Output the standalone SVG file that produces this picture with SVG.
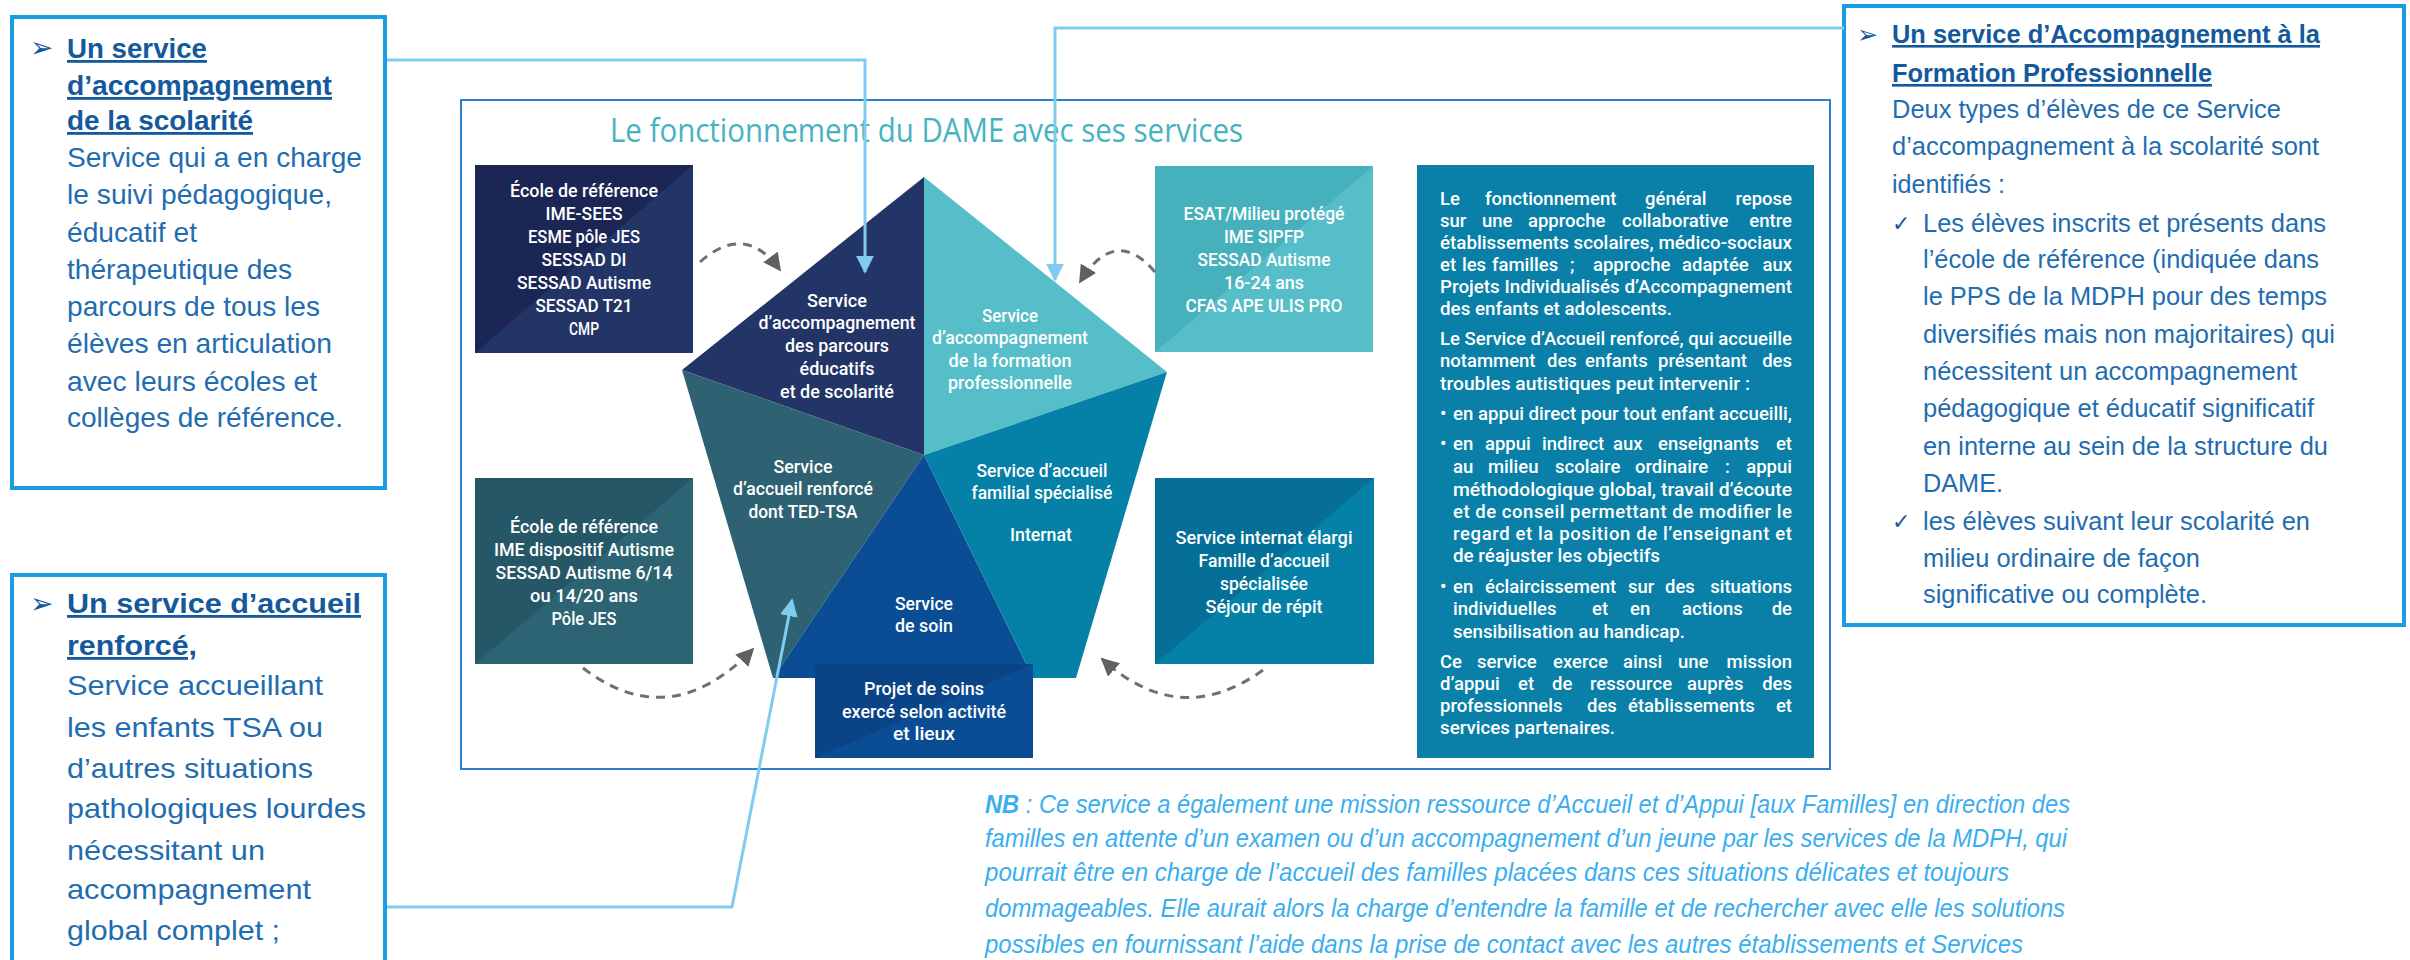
<svg xmlns="http://www.w3.org/2000/svg" width="2410" height="960" viewBox="0 0 2410 960">
<defs>
<style>
.side{fill:#fff;stroke:#1a9ee2;stroke-width:4}
.st{font-family:"Liberation Sans",Arial,sans-serif;font-size:28px;fill:#1f6db0}
.stt{font-family:"Liberation Sans",Arial,sans-serif;font-size:28px;fill:#14599b;font-weight:bold;text-decoration:underline}
.rt{font-family:"Liberation Sans",Arial,sans-serif;font-size:26px;fill:#1f6db0}
.rtt{font-family:"Liberation Sans",Arial,sans-serif;font-size:26px;fill:#14599b;font-weight:bold;text-decoration:underline}
.sym{font-family:"DejaVu Sans",sans-serif;fill:#14599b}
.wt{font-family:Roboto,"Open Sans",sans-serif;font-size:19px;fill:#fff;font-weight:500;text-anchor:middle}
.pt{font-family:Roboto,"Open Sans",sans-serif;font-size:18.5px;fill:#fff;font-weight:500}
.nb{font-family:"Liberation Sans",Arial,sans-serif;font-size:25px;fill:#3aaef0;font-style:italic}
.conn{fill:none;stroke:#80ccf0;stroke-width:3}
.dash{fill:none;stroke:#707070;stroke-width:3;stroke-dasharray:9 7}
</style>
<marker id="ah" viewBox="0 0 10 10" refX="9" refY="5" markerWidth="6" markerHeight="6" orient="auto" markerUnits="strokeWidth"><path d="M0,0 L10,5 L0,10 z" fill="#80ccf0"/></marker>
<marker id="ahg" viewBox="0 0 10 10" refX="9" refY="5" markerWidth="6" markerHeight="6" orient="auto" markerUnits="strokeWidth"><path d="M0,0 L10,5 L0,10 z" fill="#606060"/></marker>
</defs>
<rect width="2410" height="960" fill="#fff"/>

<g id="frame">
<rect x="461" y="100" width="1369" height="669" fill="none" stroke="#2e7fcf" stroke-width="2"/>
<text x="610" y="142" font-family="'Open Sans',Roboto,sans-serif" font-size="33" font-weight="500" fill="#46b3c2" textLength="633" lengthAdjust="spacingAndGlyphs">Le fonctionnement du DAME avec ses services</text>
</g>

<g id="pentagon">
<polygon id="slice-scolarite" points="924,177 682,370 924,455" fill="#233466"/>
<polygon id="slice-formation" points="924,177 1167,372 924,455" fill="#55bec8"/>
<polygon id="slice-renforce" points="682,370 773,678 924,455" fill="#2e6272"/>
<polygon id="slice-soin" points="924,455 773,678 1033,678" fill="#0a4d94"/>
<polygon id="slice-familial" points="924,455 1033,678 1076,678 1167,372" fill="#0581a8"/>
</g>

<g id="label-scolarite">
<text class="wt" x="837" y="307" textLength="60" lengthAdjust="spacingAndGlyphs">Service</text>
<text class="wt" x="837" y="329" textLength="157" lengthAdjust="spacingAndGlyphs">d’accompagnement</text>
<text class="wt" x="837" y="352" textLength="104" lengthAdjust="spacingAndGlyphs">des parcours</text>
<text class="wt" x="837" y="375" textLength="75" lengthAdjust="spacingAndGlyphs">éducatifs</text>
<text class="wt" x="837" y="398" textLength="114" lengthAdjust="spacingAndGlyphs">et de scolarité</text>
</g>
<g id="label-formation">
<text class="wt" x="1010" y="322" textLength="56" lengthAdjust="spacingAndGlyphs">Service</text>
<text class="wt" x="1010" y="344" textLength="156" lengthAdjust="spacingAndGlyphs">d’accompagnement</text>
<text class="wt" x="1010" y="367" textLength="123" lengthAdjust="spacingAndGlyphs">de la formation</text>
<text class="wt" x="1010" y="389" textLength="124" lengthAdjust="spacingAndGlyphs">professionnelle</text>
</g>
<g id="label-renforce">
<text class="wt" x="803" y="473" textLength="59" lengthAdjust="spacingAndGlyphs">Service</text>
<text class="wt" x="803" y="495" textLength="140" lengthAdjust="spacingAndGlyphs">d’accueil renforcé</text>
<text class="wt" x="803" y="518" textLength="109" lengthAdjust="spacingAndGlyphs">dont TED-TSA</text>
</g>
<g id="label-familial">
<text class="wt" x="1042" y="477" textLength="131" lengthAdjust="spacingAndGlyphs">Service d’accueil</text>
<text class="wt" x="1042" y="499" textLength="141" lengthAdjust="spacingAndGlyphs">familial spécialisé</text>
<text class="wt" x="1041" y="541" textLength="62" lengthAdjust="spacingAndGlyphs">Internat</text>
</g>
<g id="label-soin">
<text class="wt" x="924" y="610" textLength="58" lengthAdjust="spacingAndGlyphs">Service</text>
<text class="wt" x="924" y="632" textLength="58" lengthAdjust="spacingAndGlyphs">de soin</text>
</g>

<g id="box-ecole">
<rect x="475" y="165" width="218" height="188" fill="#233466"/>
<polygon points="475,165 693,165 475,353" fill="#1b2654"/>
<text class="wt" x="584" y="197" textLength="148" lengthAdjust="spacingAndGlyphs">École de référence</text>
<text class="wt" x="584" y="220" textLength="77" lengthAdjust="spacingAndGlyphs">IME-SEES</text>
<text class="wt" x="584" y="243" textLength="112" lengthAdjust="spacingAndGlyphs">ESME pôle JES</text>
<text class="wt" x="584" y="266" textLength="85" lengthAdjust="spacingAndGlyphs">SESSAD DI</text>
<text class="wt" x="584" y="289" textLength="134" lengthAdjust="spacingAndGlyphs">SESSAD Autisme</text>
<text class="wt" x="584" y="312" textLength="97" lengthAdjust="spacingAndGlyphs">SESSAD T21</text>
<text class="wt" x="584" y="335" textLength="30" lengthAdjust="spacingAndGlyphs">CMP</text>
</g>
<g id="box-autisme">
<rect x="475" y="478" width="218" height="186" fill="#2d6474"/>
<polygon points="475,478 693,478 475,664" fill="#255767"/>
<text class="wt" x="584" y="533" textLength="148" lengthAdjust="spacingAndGlyphs">École de référence</text>
<text class="wt" x="584" y="556" textLength="180" lengthAdjust="spacingAndGlyphs">IME dispositif Autisme</text>
<text class="wt" x="584" y="579" textLength="177" lengthAdjust="spacingAndGlyphs">SESSAD Autisme 6/14</text>
<text class="wt" x="584" y="602" textLength="108" lengthAdjust="spacingAndGlyphs">ou 14/20 ans</text>
<text class="wt" x="584" y="625" textLength="65" lengthAdjust="spacingAndGlyphs">Pôle JES</text>
</g>
<g id="box-esat">
<rect x="1155" y="166" width="218" height="186" fill="#55bec8"/>
<polygon points="1155,166 1373,166 1155,352" fill="#46b1bc"/>
<text class="wt" x="1264" y="220" textLength="161" lengthAdjust="spacingAndGlyphs">ESAT/Milieu protégé</text>
<text class="wt" x="1264" y="243" textLength="80" lengthAdjust="spacingAndGlyphs">IME SIPFP</text>
<text class="wt" x="1264" y="266" textLength="133" lengthAdjust="spacingAndGlyphs">SESSAD Autisme</text>
<text class="wt" x="1264" y="289" textLength="80" lengthAdjust="spacingAndGlyphs">16-24 ans</text>
<text class="wt" x="1264" y="312" textLength="157" lengthAdjust="spacingAndGlyphs">CFAS APE ULIS PRO</text>
</g>
<g id="box-internat">
<rect x="1155" y="478" width="219" height="186" fill="#0581a8"/>
<polygon points="1155,478 1374,478 1155,664" fill="#066f97"/>
<text class="wt" x="1264" y="544" textLength="177" lengthAdjust="spacingAndGlyphs">Service internat élargi</text>
<text class="wt" x="1264" y="567" textLength="131" lengthAdjust="spacingAndGlyphs">Famille d’accueil</text>
<text class="wt" x="1264" y="590" textLength="88" lengthAdjust="spacingAndGlyphs">spécialisée</text>
<text class="wt" x="1264" y="613" textLength="117" lengthAdjust="spacingAndGlyphs">Séjour de répit</text>
</g>
<g id="box-projet">
<rect x="815" y="664" width="218" height="94" fill="#0a4d94"/>
<polygon points="815,664 1033,664 815,758" fill="#0b4387"/>
<text class="wt" x="924" y="695" textLength="120" lengthAdjust="spacingAndGlyphs">Projet de soins</text>
<text class="wt" x="924" y="718" textLength="164" lengthAdjust="spacingAndGlyphs">exercé selon activité</text>
<text class="wt" x="924" y="740" textLength="62" lengthAdjust="spacingAndGlyphs">et lieux</text>
</g>

<g id="panel-texte">
<rect x="1417" y="165" width="397" height="593" fill="#0a80a8"/>
<text class="pt" y="205"><tspan x="1440">Le</tspan><tspan x="1485">fonctionnement</tspan><tspan x="1645">général</tspan><tspan x="1792" text-anchor="end">repose</tspan></text>
<text class="pt" y="227"><tspan x="1440">sur</tspan><tspan x="1482">une</tspan><tspan x="1528">approche</tspan><tspan x="1622">collaborative</tspan><tspan x="1792" text-anchor="end">entre</tspan></text>
<text class="pt" x="1440" y="249" textLength="352" lengthAdjust="spacingAndGlyphs">établissements scolaires, médico-sociaux</text>
<text class="pt" y="271"><tspan x="1440">et</tspan><tspan x="1462">les</tspan><tspan x="1492">familles</tspan><tspan x="1570">;</tspan><tspan x="1593">approche</tspan><tspan x="1682">adaptée</tspan><tspan x="1792" text-anchor="end">aux</tspan></text>
<text class="pt" x="1440" y="293" textLength="352" lengthAdjust="spacingAndGlyphs">Projets Individualisés d’Accompagnement</text>
<text class="pt" x="1440" y="315" textLength="232" lengthAdjust="spacingAndGlyphs">des enfants et adolescents.</text>
<text class="pt" x="1440" y="345" textLength="352" lengthAdjust="spacingAndGlyphs">Le Service d’Accueil renforcé, qui accueille</text>
<text class="pt" y="367"><tspan x="1440">notamment</tspan><tspan x="1547">des</tspan><tspan x="1585">enfants</tspan><tspan x="1658">présentant</tspan><tspan x="1792" text-anchor="end">des</tspan></text>
<text class="pt" x="1440" y="390" textLength="310" lengthAdjust="spacingAndGlyphs">troubles autistiques peut intervenir :</text>
<text class="pt" x="1440" y="420">•</text>
<text class="pt" x="1453" y="420" textLength="339" lengthAdjust="spacingAndGlyphs">en appui direct pour tout enfant accueilli,</text>
<text class="pt" x="1440" y="450">•</text>
<text class="pt" y="450"><tspan x="1453">en</tspan><tspan x="1485">appui</tspan><tspan x="1542">indirect</tspan><tspan x="1613">aux</tspan><tspan x="1658">enseignants</tspan><tspan x="1792" text-anchor="end">et</tspan></text>
<text class="pt" y="473"><tspan x="1453">au</tspan><tspan x="1488">milieu</tspan><tspan x="1555">scolaire</tspan><tspan x="1635">ordinaire</tspan><tspan x="1725">:</tspan><tspan x="1792" text-anchor="end">appui</tspan></text>
<text class="pt" x="1453" y="496" textLength="339" lengthAdjust="spacingAndGlyphs">méthodologique global, travail d’écoute</text>
<text class="pt" x="1453" y="518" textLength="339" lengthAdjust="spacing">et de conseil permettant de modifier le</text>
<text class="pt" x="1453" y="540" textLength="339" lengthAdjust="spacing">regard et la position de l’enseignant et</text>
<text class="pt" x="1453" y="562" textLength="207" lengthAdjust="spacingAndGlyphs">de réajuster les objectifs</text>
<text class="pt" x="1440" y="593">•</text>
<text class="pt" y="593"><tspan x="1453">en</tspan><tspan x="1485">éclaircissement</tspan><tspan x="1628">sur</tspan><tspan x="1665">des</tspan><tspan x="1792" text-anchor="end">situations</tspan></text>
<text class="pt" y="615"><tspan x="1453">individuelles</tspan><tspan x="1592">et</tspan><tspan x="1630">en</tspan><tspan x="1682">actions</tspan><tspan x="1792" text-anchor="end">de</tspan></text>
<text class="pt" x="1453" y="638" textLength="232" lengthAdjust="spacingAndGlyphs">sensibilisation au handicap.</text>
<text class="pt" y="668"><tspan x="1440">Ce</tspan><tspan x="1477">service</tspan><tspan x="1553">exerce</tspan><tspan x="1623">ainsi</tspan><tspan x="1678">une</tspan><tspan x="1792" text-anchor="end">mission</tspan></text>
<text class="pt" y="690"><tspan x="1440">d’appui</tspan><tspan x="1518">et</tspan><tspan x="1552">de</tspan><tspan x="1590">ressource</tspan><tspan x="1687">auprès</tspan><tspan x="1792" text-anchor="end">des</tspan></text>
<text class="pt" y="712"><tspan x="1440">professionnels</tspan><tspan x="1587">des</tspan><tspan x="1628">établissements</tspan><tspan x="1792" text-anchor="end">et</tspan></text>
<text class="pt" x="1440" y="734" textLength="175" lengthAdjust="spacingAndGlyphs">services partenaires.</text>
</g>

<g id="side-scolarite">
<rect class="side" x="12" y="17" width="373" height="471"/>
<text class="sym" x="30" y="57" font-size="28">➢</text>
<text class="stt" x="67" y="58" textLength="140" lengthAdjust="spacingAndGlyphs">Un service</text>
<text class="stt" x="67" y="95" textLength="265" lengthAdjust="spacingAndGlyphs">d’accompagnement</text>
<text class="stt" x="67" y="130" textLength="186" lengthAdjust="spacingAndGlyphs">de la scolarité</text>
<text class="st" x="67" y="167" textLength="295" lengthAdjust="spacingAndGlyphs">Service qui a en charge</text>
<text class="st" x="67" y="204" textLength="265" lengthAdjust="spacingAndGlyphs">le suivi pédagogique,</text>
<text class="st" x="67" y="242" textLength="130" lengthAdjust="spacingAndGlyphs">éducatif et</text>
<text class="st" x="67" y="279" textLength="225" lengthAdjust="spacingAndGlyphs">thérapeutique des</text>
<text class="st" x="67" y="316" textLength="253" lengthAdjust="spacingAndGlyphs">parcours de tous les</text>
<text class="st" x="67" y="353" textLength="265" lengthAdjust="spacingAndGlyphs">élèves en articulation</text>
<text class="st" x="67" y="391" textLength="250" lengthAdjust="spacingAndGlyphs">avec leurs écoles et</text>
<text class="st" x="67" y="427" textLength="276" lengthAdjust="spacingAndGlyphs">collèges de référence.</text>
</g>

<g id="side-renforce">
<rect class="side" x="12" y="575" width="373" height="420"/>
<text class="sym" x="30" y="613" font-size="28">➢</text>
<text class="stt" x="67" y="613" textLength="294" lengthAdjust="spacingAndGlyphs">Un service d’accueil</text>
<text class="stt" x="67" y="655" textLength="130" lengthAdjust="spacingAndGlyphs">renforcé,</text>
<text class="st" x="67" y="695" textLength="256" lengthAdjust="spacingAndGlyphs">Service accueillant</text>
<text class="st" x="67" y="737" textLength="256" lengthAdjust="spacingAndGlyphs">les enfants TSA ou</text>
<text class="st" x="67" y="778" textLength="246" lengthAdjust="spacingAndGlyphs">d’autres situations</text>
<text class="st" x="67" y="818" textLength="299" lengthAdjust="spacingAndGlyphs">pathologiques lourdes</text>
<text class="st" x="67" y="860" textLength="198" lengthAdjust="spacingAndGlyphs">nécessitant un</text>
<text class="st" x="67" y="899" textLength="244" lengthAdjust="spacingAndGlyphs">accompagnement</text>
<text class="st" x="67" y="940" textLength="213" lengthAdjust="spacingAndGlyphs">global complet ;</text>
</g>

<g id="side-formation">
<rect class="side" x="1844" y="6" width="560" height="619"/>
<text class="sym" x="1857" y="43" font-size="25">➢</text>
<text class="rtt" x="1892" y="43" textLength="428" lengthAdjust="spacingAndGlyphs">Un service d’Accompagnement à la</text>
<text class="rtt" x="1892" y="82" textLength="320" lengthAdjust="spacingAndGlyphs">Formation Professionnelle</text>
<text class="rt" x="1892" y="118" textLength="389" lengthAdjust="spacingAndGlyphs">Deux types d’élèves de ce Service</text>
<text class="rt" x="1892" y="155" textLength="427" lengthAdjust="spacingAndGlyphs">d’accompagnement à la scolarité sont</text>
<text class="rt" x="1892" y="193" textLength="113" lengthAdjust="spacingAndGlyphs">identifiés :</text>
<text class="sym" x="1892" y="231" font-size="22" fill="#1f6db0">✓</text>
<text class="rt" x="1923" y="232" textLength="403" lengthAdjust="spacingAndGlyphs">Les élèves inscrits et présents dans</text>
<text class="rt" x="1923" y="268" textLength="396" lengthAdjust="spacingAndGlyphs">l’école de référence (indiquée dans</text>
<text class="rt" x="1923" y="305" textLength="404" lengthAdjust="spacingAndGlyphs">le PPS de la MDPH pour des temps</text>
<text class="rt" x="1923" y="343" textLength="412" lengthAdjust="spacingAndGlyphs">diversifiés mais non majoritaires) qui</text>
<text class="rt" x="1923" y="380" textLength="374" lengthAdjust="spacingAndGlyphs">nécessitent un accompagnement</text>
<text class="rt" x="1923" y="417" textLength="391" lengthAdjust="spacingAndGlyphs">pédagogique et éducatif significatif</text>
<text class="rt" x="1923" y="455" textLength="405" lengthAdjust="spacingAndGlyphs">en interne au sein de la structure du</text>
<text class="rt" x="1923" y="492" textLength="80" lengthAdjust="spacingAndGlyphs">DAME.</text>
<text class="sym" x="1892" y="529" font-size="22" fill="#1f6db0">✓</text>
<text class="rt" x="1923" y="530" textLength="387" lengthAdjust="spacingAndGlyphs">les élèves suivant leur scolarité en</text>
<text class="rt" x="1923" y="567" textLength="277" lengthAdjust="spacingAndGlyphs">milieu ordinaire de façon</text>
<text class="rt" x="1923" y="603" textLength="284" lengthAdjust="spacingAndGlyphs">significative ou complète.</text>
</g>

<g id="note-nb">
<text class="nb" x="985" y="813" textLength="1085" lengthAdjust="spacingAndGlyphs"><tspan font-weight="bold">NB</tspan> : Ce service a également une mission ressource d’Accueil et d’Appui [aux Familles] en direction des</text>
<text class="nb" x="985" y="847" textLength="1082" lengthAdjust="spacingAndGlyphs">familles en attente d’un examen ou d’un accompagnement d’un jeune par les services de la MDPH, qui</text>
<text class="nb" x="985" y="881" textLength="1024" lengthAdjust="spacingAndGlyphs">pourrait être en charge de l’accueil des familles placées dans ces situations délicates et toujours</text>
<text class="nb" x="985" y="917" textLength="1080" lengthAdjust="spacingAndGlyphs">dommageables. Elle aurait alors la charge d’entendre la famille et de rechercher avec elle les solutions</text>
<text class="nb" x="985" y="953" textLength="1038" lengthAdjust="spacingAndGlyphs">possibles en fournissant l’aide dans la prise de contact avec les autres établissements et Services</text>
</g>

<g id="connectors">
<path class="conn" d="M387,60 L865,60 L865,272" marker-end="url(#ah)"/>
<path class="conn" d="M1844,28 L1055,28 L1055,280" marker-end="url(#ah)"/>
<path class="conn" d="M387,907 L732,907 L792,600" marker-end="url(#ah)"/>
<path class="dash" d="M700,262 Q745,222 780,270" marker-end="url(#ahg)"/>
<path class="dash" d="M583,668 Q670,735 753,649" marker-end="url(#ahg)"/>
<path class="dash" d="M1155,272 Q1115,225 1080,282" marker-end="url(#ahg)"/>
<path class="dash" d="M1263,670 Q1180,730 1102,659" marker-end="url(#ahg)"/>
</g>
</svg>
